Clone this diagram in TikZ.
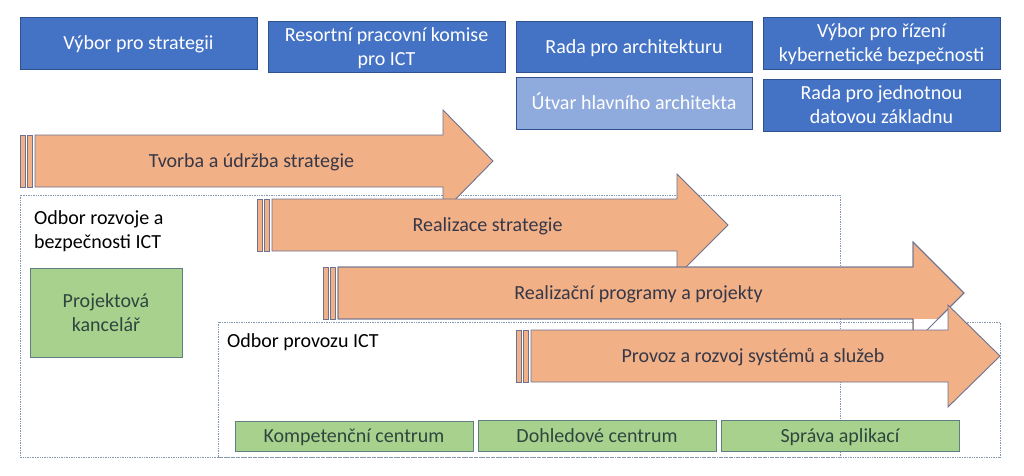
\documentclass[tikz,border=0pt]{standalone}
\usepackage{fontspec}
\setmainfont{Carlito}
\definecolor{bluefill}{HTML}{4472C4}
\definecolor{blueline}{HTML}{2F528F}
\definecolor{lightblue}{HTML}{8FAADC}
\definecolor{orangefill}{HTML}{F2B086}
\definecolor{arrowline}{HTML}{6C7290}
\definecolor{greenfill}{HTML}{A9D18E}
\definecolor{greenline}{HTML}{5F7F80}
\definecolor{greentext}{HTML}{2E463E}
\definecolor{arrowtext}{HTML}{363848}
\definecolor{dotline}{HTML}{8497B0}
\newcommand\ms{\rule[-5.5pt]{0pt}{24pt}}
\tikzset{
  txt/.style={font=\fontsize{20}{24}\selectfont, align=center, inner sep=0pt},
  bluebox/.style={txt, draw=blueline, fill=bluefill, text=white, line width=0.8pt},
  lightbox/.style={txt, draw=blueline, fill=lightblue, text=white, line width=0.8pt},
  greenbox/.style={txt, draw=greenline, fill=greenfill, text=greentext, line width=0.8pt},
  arrowsty/.style={draw=arrowline, fill=orangefill, line width=0.9pt, line join=miter},
  arrowlabel/.style={txt, text=arrowtext},
  dotbox/.style={draw=dotline, line width=0.8pt, dash pattern=on 0.8pt off 0.9pt},
  orglabel/.style={font=\fontsize{20}{24}\selectfont, align=left, inner sep=0pt, anchor=west, text=black}
}
% #1 stripe start x, #2 head base x, #3 tip x, #4 centre y
\newcommand\myarrowpath[4]{(#1+15,#4-26) -- (#2,#4-26) -- (#2,#4-51) -- (#3,#4) -- (#2,#4+51) -- (#2,#4+26) -- (#1+15,#4+26) -- cycle}
\newcommand\myarrow[6]{%
  \draw[arrowsty] (#2,#5-26) rectangle (#2+5,#5+26);
  \draw[arrowsty] (#2+7,#5-26) rectangle (#2+12,#5+26);
  \draw[arrowsty] \myarrowpath{#2}{#3}{#4}{#5};
  \node[arrowlabel] (#1) at ({(#2+#4)/2-5},#5) {\ms #6};
}
\begin{document}
\begin{tikzpicture}[x=1pt,y=-1pt]
\useasboundingbox (0,0) rectangle (1024,475);
\fill[white] (0,0) rectangle (1024,475);

% top committees
\node[bluebox, minimum width=237pt, minimum height=52pt] (vs) at (138.5,43) {\ms Výbor pro strategii};
\node[bluebox, minimum width=237pt, minimum height=51pt] (rk) at (386.5,46.5) {\ms Resortní pracovní komise\\\ms pro ICT};
\node[bluebox, minimum width=236pt, minimum height=51pt] (ra) at (634,46.5) {\ms Rada pro architekturu};
\node[lightbox, minimum width=236pt, minimum height=52pt] (ua) at (634,103) {\ms Útvar hlavního architekta};
\node[bluebox, minimum width=237pt, minimum height=52pt] (vr) at (881.5,43) {\ms Výbor pro řízení\\\ms kybernetické bezpečnosti};
\node[bluebox, minimum width=237pt, minimum height=52pt] (rj) at (881.5,105) {\ms Rada pro jednotnou\\\ms datovou základnu};

% departments (dotted frames)
\draw[dotbox] (20,195) rectangle (840,457);
\draw[dotbox] (218,322) rectangle (1000,457);
\node[orglabel] (orb) at (34,230) {\ms Odbor rozvoje a\\\ms bezpečnosti ICT};
\node[orglabel] (opi) at (227,341) {\ms Odbor provozu ICT};

% green units
\node[greenbox, minimum width=152pt, minimum height=89pt] (pk) at (106,312.5) {\ms Projektová\\\ms kancelář};
\node[greenbox, minimum width=238pt, minimum height=30pt] (kc) at (354,436) {\ms Kompetenční centrum};
\node[greenbox, minimum width=238pt, minimum height=31pt] (dc) at (597,435.5) {\ms Dohledové centrum};
\node[greenbox, minimum width=238pt, minimum height=31pt] (sa) at (840,435.5) {\ms Správa aplikací};

% process arrows
\myarrow{a1}{20}{443}{493}{161}{Tvorba a údržba strategie}
\myarrow{a2}{257}{677}{728}{225}{Realizace strategie}
\myarrow{a3}{323}{913}{964}{293}{Realizační programy a projekty}
\fill[white] (913.5,318.5) rectangle (948,330);
\draw[draw=arrowline, line width=0.9pt] \myarrowpath{323}{913}{964}{293};
\myarrow{a4}{516}{948}{1000}{356}{Provoz a rozvoj systémů a služeb}
\end{tikzpicture}
\end{document}
